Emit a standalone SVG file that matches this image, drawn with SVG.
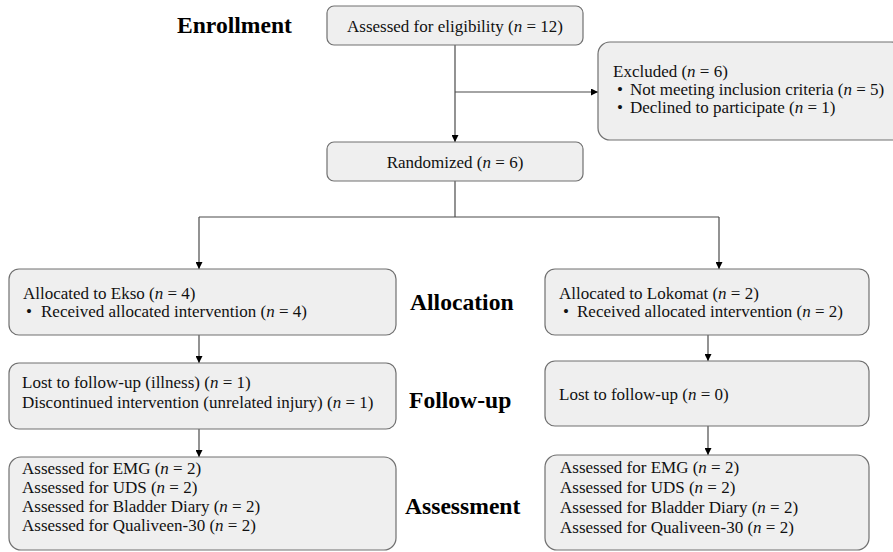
<svg xmlns="http://www.w3.org/2000/svg" width="893" height="552" viewBox="0 0 893 552">
<style>
.cbox{fill:#efefef;stroke:#707070;stroke-width:1.2}
.ctxt{font-family:'Liberation Serif',serif;font-size:17px;fill:#111}
.chdr{font-family:'Liberation Serif',serif;font-size:23.6px;font-weight:bold;fill:#000}
.cit{font-style:italic}
.cline{fill:none;stroke:#4a4a4a;stroke-width:1.2}
</style>
<defs>
<marker id="ah" viewBox="0 0 10 10" refX="10" refY="5" markerWidth="7" markerHeight="7" markerUnits="userSpaceOnUse" orient="auto">
<path d="M0 0L10 5L0 10z" fill="#000"/>
</marker>
</defs>
<rect width="893" height="552" fill="#fff"/>
<g id="headings">
<text class="chdr" font-family="Liberation Serif" x="177" y="33">Enrollment</text>
<text class="chdr" font-family="Liberation Serif" x="410" y="310">Allocation</text>
<text class="chdr" font-family="Liberation Serif" x="409" y="408">Follow-up</text>
<text class="chdr" font-family="Liberation Serif" x="405" y="514">Assessment</text>
</g>
<g id="connectors">
<path class="cline" d="M455 45V142" marker-end="url(#ah)"/>
<path class="cline" d="M455 92H598" marker-end="url(#ah)"/>
<path class="cline" d="M455 181V217"/>
<path class="cline" d="M199 217H719"/>
<path class="cline" d="M199 217V269" marker-end="url(#ah)"/>
<path class="cline" d="M719 217V269" marker-end="url(#ah)"/>
<path class="cline" d="M199 335V363" marker-end="url(#ah)"/>
<path class="cline" d="M708 335V361" marker-end="url(#ah)"/>
<path class="cline" d="M199 429V457" marker-end="url(#ah)"/>
<path class="cline" d="M708 426V455" marker-end="url(#ah)"/>
</g>
<g id="eligibility">
<rect class="cbox" x="327" y="6" width="256" height="39" rx="7"/>
<text class="ctxt" font-family="Liberation Serif" x="455" y="32" text-anchor="middle">Assessed for eligibility (<tspan class="cit">n</tspan> = 12)</text>
</g>
<g id="excluded">
<rect class="cbox" x="598" y="42" width="305" height="98" rx="12"/>
<text class="ctxt" font-family="Liberation Serif" x="613" y="77">Excluded (<tspan class="cit">n</tspan> = 6)</text>
<text class="ctxt" font-family="Liberation Serif" x="617" y="95">•</text>
<text class="ctxt" font-family="Liberation Serif" x="630" y="95">Not meeting inclusion criteria (<tspan class="cit">n</tspan> = 5)</text>
<text class="ctxt" font-family="Liberation Serif" x="617" y="113">•</text>
<text class="ctxt" font-family="Liberation Serif" x="630" y="113">Declined to participate (<tspan class="cit">n</tspan> = 1)</text>
</g>
<g id="randomized">
<rect class="cbox" x="327" y="142" width="256" height="39" rx="7"/>
<text class="ctxt" font-family="Liberation Serif" x="455" y="168" text-anchor="middle">Randomized (<tspan class="cit">n</tspan> = 6)</text>
</g>
<g id="ekso">
<rect class="cbox" x="9" y="269" width="387" height="66" rx="10"/>
<text class="ctxt" font-family="Liberation Serif" x="23" y="299">Allocated to Ekso (<tspan class="cit">n</tspan> = 4)</text>
<text class="ctxt" font-family="Liberation Serif" x="26" y="317">•</text>
<text class="ctxt" font-family="Liberation Serif" x="41" y="317">Received allocated intervention (<tspan class="cit">n</tspan> = 4)</text>
</g>
<g id="lokomat">
<rect class="cbox" x="545" y="269" width="324" height="66" rx="10"/>
<text class="ctxt" font-family="Liberation Serif" x="559" y="299">Allocated to Lokomat (<tspan class="cit">n</tspan> = 2)</text>
<text class="ctxt" font-family="Liberation Serif" x="563" y="317">•</text>
<text class="ctxt" font-family="Liberation Serif" x="577" y="317">Received allocated intervention (<tspan class="cit">n</tspan> = 2)</text>
</g>
<g id="followup-ekso">
<rect class="cbox" x="9" y="363" width="387" height="66" rx="10"/>
<text class="ctxt" font-family="Liberation Serif" x="22" y="388">Lost to follow-up (illness) (<tspan class="cit">n</tspan> = 1)</text>
<text class="ctxt" font-family="Liberation Serif" x="22" y="408">Discontinued intervention (unrelated injury) (<tspan class="cit">n</tspan> = 1)</text>
</g>
<g id="followup-lokomat">
<rect class="cbox" x="545" y="361" width="324" height="65" rx="10"/>
<text class="ctxt" font-family="Liberation Serif" x="559" y="400">Lost to follow-up (<tspan class="cit">n</tspan> = 0)</text>
</g>
<g id="assess-ekso">
<rect class="cbox" x="9" y="457" width="387" height="93" rx="12"/>
<text class="ctxt" font-family="Liberation Serif" x="22" y="474">Assessed for EMG (<tspan class="cit">n</tspan> = 2)</text>
<text class="ctxt" font-family="Liberation Serif" x="22" y="493">Assessed for UDS (<tspan class="cit">n</tspan> = 2)</text>
<text class="ctxt" font-family="Liberation Serif" x="22" y="512">Assessed for Bladder Diary (<tspan class="cit">n</tspan> = 2)</text>
<text class="ctxt" font-family="Liberation Serif" x="22" y="531">Assessed for Qualiveen-30 (<tspan class="cit">n</tspan> = 2)</text>
</g>
<g id="assess-lokomat">
<rect class="cbox" x="545" y="455" width="324" height="95" rx="12"/>
<text class="ctxt" font-family="Liberation Serif" x="560" y="473">Assessed for EMG (<tspan class="cit">n</tspan> = 2)</text>
<text class="ctxt" font-family="Liberation Serif" x="560" y="493">Assessed for UDS (<tspan class="cit">n</tspan> = 2)</text>
<text class="ctxt" font-family="Liberation Serif" x="560" y="513">Assessed for Bladder Diary (<tspan class="cit">n</tspan> = 2)</text>
<text class="ctxt" font-family="Liberation Serif" x="560" y="533">Assessed for Qualiveen-30 (<tspan class="cit">n</tspan> = 2)</text>
</g>
</svg>
